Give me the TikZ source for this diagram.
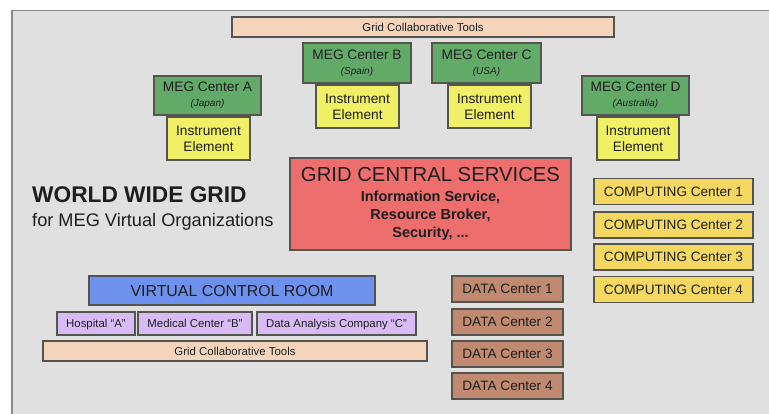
\documentclass[tikz,border=0pt]{standalone}
\usepackage{fontspec}
\setmainfont{Liberation Sans}
\definecolor{panel}{HTML}{E0E0E0}
\definecolor{panelline}{HTML}{8A8A8A}
\definecolor{edge}{HTML}{55554F}
\definecolor{ink}{HTML}{1E1E1E}
\definecolor{megG}{HTML}{62AA68}
\definecolor{instY}{HTML}{F0F066}
\definecolor{gcsR}{HTML}{EE6E6E}
\definecolor{compY}{HTML}{F4D862}
\definecolor{dataB}{HTML}{C08A70}
\definecolor{vcrB}{HTML}{6F91EE}
\definecolor{orgP}{HTML}{D8BBF4}
\definecolor{toolP}{HTML}{F4D5BC}
\tikzset{
  box/.style={draw=edge, line width=1.2pt, inner sep=0pt, text=ink, align=center},
  one/.style={box, text depth=0pt},
  sz/.style 2 args={minimum width=#1pt, minimum height=#2pt},
  meg/.style={box, fill=megG, sz={107}{39}, font=\fontsize{13.7}{15}\selectfont},
  inst/.style={box, fill=instY, sz={83}{43}, font=\fontsize{13.7}{16}\selectfont},
  tools/.style={one, fill=toolP, font=\fontsize{11.4}{13}\selectfont},
  comp/.style={one, fill=compY, sz={159}{26}, font=\fontsize{13.6}{16}\selectfont},
  datac/.style={one, fill=dataB, sz={111}{26}, font=\fontsize{13.6}{16}\selectfont},
  org/.style={one, fill=orgP, sz={0}{23}, font=\fontsize{11.4}{13}\selectfont},
  plain/.style={inner sep=0pt, text=ink, anchor=base west},
}
\newcommand{\megtext}[2]{#1\\{\fontsize{10}{15}\selectfont\itshape (#2)}}
\begin{document}
\begin{tikzpicture}[x=1pt,y=-1pt]
\useasboundingbox (0,0) rectangle (769,414);
\fill[white] (0,0) rectangle (769,414);
\fill[panel] (11,10) rectangle (769,414);
\draw[panelline, line width=1.5pt] (11.75,414) -- (11.75,10.75) -- (769,10.75);

% top tools
\node[tools, sz={382}{20}] (gct1) at (423,27) {Grid Collaborative Tools};

% MEG centres and instrument elements
\node[meg, sz={108}{40}] (megB) at (357,63) {\megtext{MEG Center B}{Spain}};
\node[inst] (ieB) at (357.5,106.5) {Instrument\\Element};
\node[meg, sz={109}{40}] (megC) at (486.5,63) {\megtext{MEG Center C}{USA}};
\node[inst] (ieC) at (489.5,106.5) {Instrument\\Element};
\node[meg] (megA) at (207.5,95.5) {\megtext{MEG Center A}{Japan}};
\node[inst] (ieA) at (208.5,138.5) {Instrument\\Element};
\node[meg] (megD) at (635.5,95.5) {\megtext{MEG Center D}{Australia}};
\node[inst, sz={82}{43}] (ieD) at (638,138.5) {Instrument\\Element};

% grid central services
\node[box, fill=gcsR, sz={281}{92}, font=\fontsize{14.5}{18}\selectfont\bfseries] (gcs) at (430.5,204)
  {{\fontsize{20.3}{20}\selectfont\mdseries GRID CENTRAL SERVICES}\\[2pt]
   Information Service,\\Resource Broker,\\Security, ...};

% titles
\node[plain, font=\fontsize{22.7}{26}\selectfont\bfseries] (wwg) at (32,203) {WORLD WIDE GRID};
\node[plain, font=\fontsize{18.2}{22}\selectfont] (vo) at (32,227) {for MEG Virtual Organizations};

% computing centres
\node[comp] (cc1) at (673.5,191.5) {COMPUTING Center 1};
\node[comp] (cc2) at (673.5,225) {COMPUTING Center 2};
\node[comp] (cc3) at (673.5,257) {COMPUTING Center 3};
\node[comp] (cc4) at (673.5,289.5) {COMPUTING Center 4};

% data centres
\node[datac] (dc1) at (507.5,289) {DATA Center 1};
\node[datac] (dc2) at (507.5,322) {DATA Center 2};
\node[datac] (dc3) at (507.5,354) {DATA Center 3};
\node[datac] (dc4) at (507.5,386) {DATA Center 4};

% virtual control room
\node[one, fill=vcrB, sz={286}{29}, font=\fontsize{15.9}{18}\selectfont] (vcr) at (232,290.5) {VIRTUAL CONTROL ROOM};
\node[org, sz={78}{23}] (hosp) at (96,323.5) {Hospital ``A''};
\node[org, sz={114}{23}] (med) at (195,323.5) {Medical Center ``B''};
\node[org, sz={159}{23}] (dac) at (336.5,323.5) {Data Analysis Company ``C''};
\node[tools, sz={384}{20}] (gct2) at (235,351) {Grid Collaborative Tools};
\end{tikzpicture}
\end{document}
